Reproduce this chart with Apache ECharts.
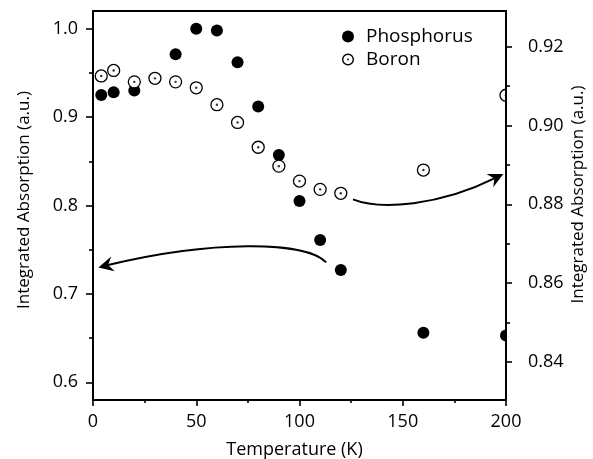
<!DOCTYPE html>
<html>
<head>
<meta charset="utf-8">
<script src="https://cdn.jsdelivr.net/npm/echarts@6/dist/echarts.min.js"></script>
<style>
  html, body { margin: 0; padding: 0; background: #fff; }
  #chart { width: 593px; height: 459px; }
</style>
</head>
<body>
<div id="chart"></div>
<script>
// ---- data ----
const phosphorusT = [4, 10, 20, 40, 50, 60, 70, 80, 90, 100, 110, 120, 160, 200];
const phosphorusV = [0.925, 0.928, 0.930, 0.971, 1.000, 0.998, 0.962, 0.912, 0.857, 0.805, 0.761, 0.727, 0.656, 0.653];
const boronT = [4, 10, 20, 30, 40, 50, 60, 70, 80, 90, 100, 110, 120, 160, 200];
const boronV = [0.9126, 0.9140, 0.9111, 0.9120, 0.9111, 0.9096, 0.9053, 0.9008, 0.8945, 0.8897, 0.8859, 0.8838, 0.8828, 0.8887, 0.9077];

const xTicks = [0, 50, 100, 150, 200];
const leftTicks = [0.6, 0.7, 0.8, 0.9, 1.0];
const leftMinorTicks = [0.65, 0.75, 0.85, 0.95];
const rightTicks = [0.84, 0.86, 0.88, 0.90, 0.92];
const rightMinorTicks = [0.85, 0.87, 0.89, 0.91];

// annotation arrows, in (temperature, left-axis value) coordinates: cubic bezier p0,c1,c2,tip
const arrowToLeft = [[112.9, 0.7356], [102.8, 0.7605], [56.7, 0.7605], [2.6, 0.7300]];
const arrowToRight = [[125.9, 0.8069], [139.1, 0.7945], [168.2, 0.8001], [198.7, 0.8357]];

const FONT = 'Open Sans';
const BLACK = '#000';

const zip = (a, b) => a.map((v, i) => [v, b[i]]);

const boronIcon = 'path://M0,12 A12,12 0 1,0 24,12 A12,12 0 1,0 0,12 Z ' +
  'M2.8,12 A9.2,9.2 0 1,1 21.2,12 A9.2,9.2 0 1,1 2.8,12 Z ' +
  'M10.2,12 A1.8,1.8 0 1,0 13.8,12 A1.8,1.8 0 1,0 10.2,12 Z';

const chart = echarts.init(document.getElementById('chart'), null, { renderer: 'canvas' });

const axisLineStyle = { color: BLACK, width: 2 };
const tickStyle = { color: BLACK, width: 1.6 };
const labelStyle = { color: BLACK, fontFamily: FONT, fontSize: 18 };

chart.setOption({
  backgroundColor: '#fff',
  animation: false,
  grid: {
    left: 93, right: 87, top: 11, bottom: 59,
    outerBoundsMode: 'none', containLabel: false,
    show: true, borderColor: BLACK, borderWidth: 2, backgroundColor: 'transparent'
  },
  legend: {
    orient: 'vertical', left: 337, top: 22,
    itemWidth: 26, itemHeight: 12, itemGap: 4,
    selectedMode: false,
    textStyle: { color: BLACK, fontFamily: FONT, fontSize: 19 },
    data: [
      { name: 'Phosphorus', icon: 'circle' },
      { name: 'Boron', icon: boronIcon, itemStyle: { color: BLACK, borderWidth: 0 } }
    ]
  },
  xAxis: {
    type: 'value', min: 0, max: 200, interval: 50,
    name: 'Temperature (K)', nameLocation: 'middle', nameGap: 41,
    nameTextStyle: { color: BLACK, fontFamily: FONT, fontSize: 18, padding: [0, 10, 0, 0] },
    axisLine: { lineStyle: axisLineStyle },
    axisTick: { length: 6, lineStyle: tickStyle, customValues: xTicks },
    minorTick: { show: true, splitNumber: 2, length: 3, lineStyle: tickStyle },
    axisLabel: { margin: 13, ...labelStyle, customValues: xTicks, formatter: v => String(v) },
    splitLine: { show: false }
  },
  yAxis: [
    {
      type: 'value', position: 'left', min: 0.58, max: 1.02,
      name: 'Integrated Absorption (a.u.)', nameLocation: 'middle', nameGap: 60, nameRotate: 90,
      nameMoveOverlap: false,
      nameTextStyle: { color: BLACK, fontFamily: FONT, fontSize: 17, padding: [0, 0, 0, 11] },
      axisLine: { show: true, lineStyle: axisLineStyle },
      axisTick: { show: true, length: 7, lineStyle: tickStyle, customValues: leftTicks },
      axisLabel: { margin: 15, ...labelStyle, customValues: leftTicks, formatter: v => v.toFixed(1) },
      splitLine: { show: false }
    },
    {
      type: 'value', position: 'left', min: 0.58, max: 1.02,
      axisLine: { show: false },
      axisTick: { show: true, length: 4, lineStyle: tickStyle, customValues: leftMinorTicks },
      axisLabel: { show: false },
      splitLine: { show: false }
    },
    {
      type: 'value', position: 'right', min: 0.8303, max: 0.9291, z: 4,
      name: 'Integrated Absorption (a.u.)', nameLocation: 'middle', nameGap: 64, nameRotate: 90,
      nameMoveOverlap: false,
      nameTextStyle: { color: BLACK, fontFamily: FONT, fontSize: 17, padding: [0, 0, 0, 22] },
      axisLine: { show: true, lineStyle: axisLineStyle },
      axisTick: { show: true, length: 6, lineStyle: tickStyle, customValues: rightTicks },
      axisLabel: { margin: 22, ...labelStyle, customValues: rightTicks, formatter: v => v.toFixed(2) },
      splitLine: { show: false }
    },
    {
      type: 'value', position: 'right', min: 0.8303, max: 0.9291, z: 4,
      axisLine: { show: false },
      axisTick: { show: true, length: 4, lineStyle: tickStyle, customValues: rightMinorTicks },
      axisLabel: { show: false },
      splitLine: { show: false }
    }
  ],
  series: [
    {
      name: 'Phosphorus', type: 'scatter', yAxisIndex: 0,
      symbol: 'circle', symbolSize: 12,
      itemStyle: { color: BLACK, opacity: 1 },
      data: zip(phosphorusT, phosphorusV)
    },
    {
      name: 'Boron', type: 'scatter', yAxisIndex: 2,
      symbol: 'circle', symbolSize: 12,
      itemStyle: { color: '#fff', borderColor: BLACK, borderWidth: 1.3, opacity: 1 },
      data: zip(boronT, boronV)
    },
    {
      name: 'BoronCenter', type: 'scatter', yAxisIndex: 2, silent: true,
      symbol: 'circle', symbolSize: 2.4,
      itemStyle: { color: BLACK },
      data: zip(boronT, boronV)
    }
  ]
});

// annotation arrows, placed through the axes
function arrowGraphics(pts) {
  const p = pts.map(pt => chart.convertToPixel({ xAxisIndex: 0, yAxisIndex: 0 }, pt));
  const tip = p[3];
  let dx = tip[0] - p[2][0], dy = tip[1] - p[2][1];
  const len = Math.hypot(dx, dy); dx /= len; dy /= len;
  const nx = -dy, ny = dx;
  const L = 15, W = 7.5, notch = 10;
  const end = [tip[0] - dx * notch, tip[1] - dy * notch];
  return [
    {
      type: 'bezierCurve', z: 5, silent: true,
      shape: { x1: p[0][0], y1: p[0][1], cpx1: p[1][0], cpy1: p[1][1], cpx2: p[2][0], cpy2: p[2][1], x2: end[0], y2: end[1] },
      style: { stroke: BLACK, lineWidth: 2, fill: null }
    },
    {
      type: 'polygon', z: 5, silent: true,
      shape: { points: [
        tip,
        [tip[0] - dx * L + nx * W, tip[1] - dy * L + ny * W],
        end,
        [tip[0] - dx * L - nx * W, tip[1] - dy * L - ny * W]
      ] },
      style: { fill: BLACK, stroke: null }
    }
  ];
}

const plotRightPx = chart.convertToPixel({ xAxisIndex: 0 }, 200);
const plotTopPx = chart.convertToPixel({ yAxisIndex: 0 }, 1.02);
const plotBottomPx = chart.convertToPixel({ yAxisIndex: 0 }, 0.58);

chart.setOption({
  graphic: [
    ...arrowGraphics(arrowToLeft),
    ...arrowGraphics(arrowToRight),
    {
      type: 'rect', z: 3, silent: true,
      shape: { x: plotRightPx + 1, y: plotTopPx - 8, width: 8, height: plotBottomPx - plotTopPx + 16 },
      style: { fill: '#fff' }
    }
  ]
});
</script>
</body>
</html>
